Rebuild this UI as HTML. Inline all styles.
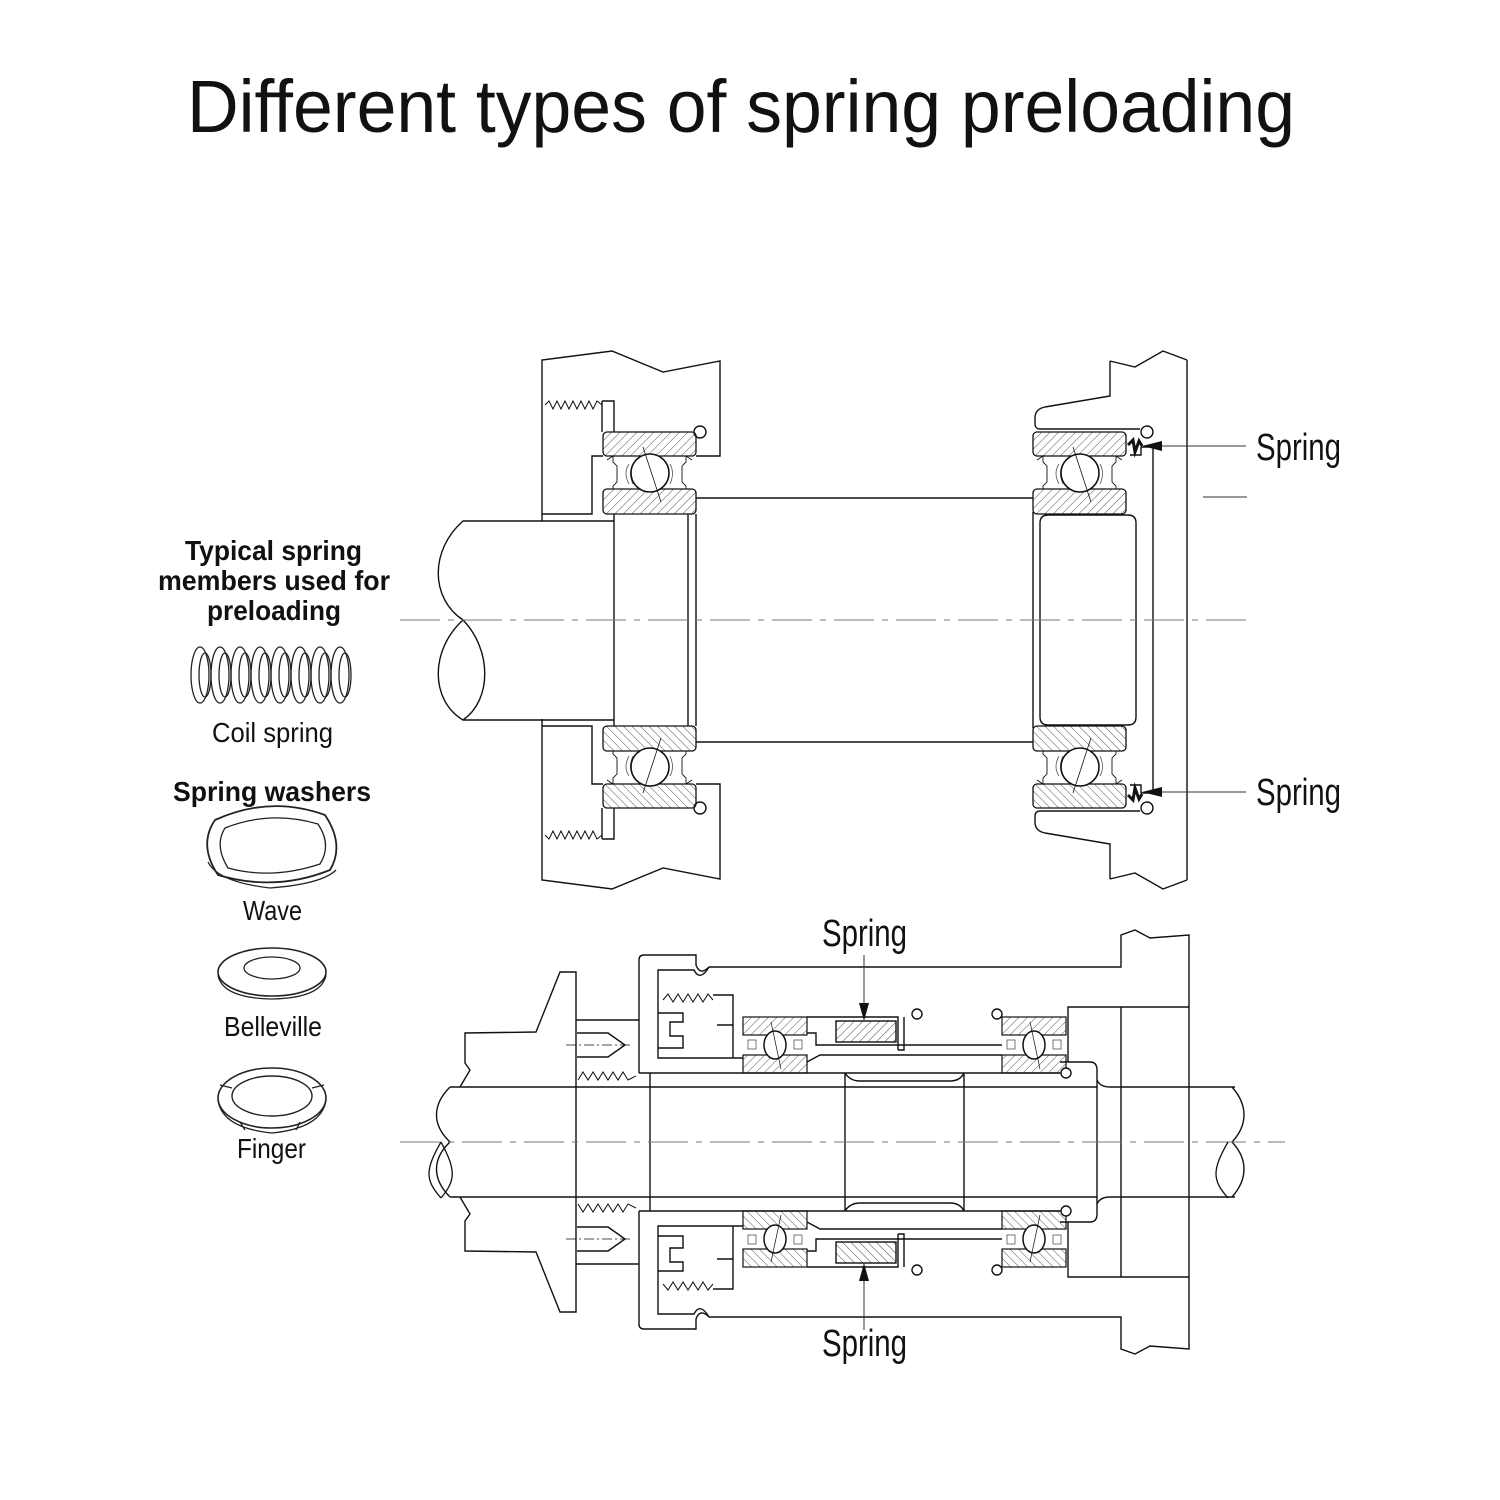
<!DOCTYPE html>
<html><head><meta charset="utf-8"><style>
html,body{margin:0;padding:0;background:#fff}
svg{display:block}
text{font-family:"Liberation Sans",sans-serif;fill:#111}
</style></head><body>
<svg width="1500" height="1500" viewBox="0 0 1500 1500" xmlns="http://www.w3.org/2000/svg">
<defs>
<pattern id="h" width="6" height="6" patternUnits="userSpaceOnUse" patternTransform="rotate(45)">
<line x1="0" y1="0" x2="0" y2="6" stroke="#222" stroke-width="0.8"/>
</pattern>
<g id="brg">
<!-- bearing 93x82 -->
<rect x="0" y="0" width="93" height="24" rx="4" fill="url(#h)" stroke="#111" stroke-width="1.3"/>
<rect x="0" y="57" width="93" height="25" rx="4" fill="url(#h)" stroke="#111" stroke-width="1.3"/>
<path d="M4,28 L10,24 L10,30 L14,34 L14,50 L10,54 L10,57 M89,28 L83,24 L83,30 L79,34 L79,50 L83,54 L83,57" fill="none" stroke="#111" stroke-width="0.9"/>
<path d="M26,32 Q20,41 26,52 M30,32 Q25,41 30,52 M67,32 Q72,41 67,52 M63,32 Q68,41 63,52" fill="none" stroke="#555" stroke-width="0.8"/>
<circle cx="47" cy="41" r="19" fill="#fff" stroke="#111" stroke-width="1.6"/>
<line x1="40" y1="15" x2="58" y2="70" stroke="#111" stroke-width="0.8"/>
</g>
<g id="sb">
<!-- small bearing 64x56 -->
<rect x="0" y="0" width="64" height="18" fill="url(#h)" stroke="#111" stroke-width="1.2"/>
<rect x="0" y="38" width="64" height="18" fill="url(#h)" stroke="#111" stroke-width="1.2"/>
<rect x="5" y="23" width="8" height="9" fill="none" stroke="#555" stroke-width="0.8"/>
<rect x="51" y="23" width="8" height="9" fill="none" stroke="#555" stroke-width="0.8"/>
<ellipse cx="32" cy="28" rx="11" ry="14" fill="#fff" stroke="#111" stroke-width="1.5"/>
<line x1="28" y1="5" x2="38" y2="52" stroke="#111" stroke-width="0.7"/>
</g>
<g id="topHalf" fill="none" stroke="#111" stroke-width="1.4">
<!-- left housing -->
<path d="M542,521 L542,360 L612,351 L663,372 L720,361 L720,456 L696,456"/>
<polyline points="545,405 549,401 553,409 557,401 561,409 565,401 569,409 573,401 577,409 581,401 585,409 589,401 593,409 597,401 602,405" stroke-width="1"/>
<path d="M602,401 L614,401 L614,432 M602,401 L602,432"/>
<path d="M542,514 L592,514 L592,456 L603,456"/>
<circle cx="700" cy="432" r="6" fill="#fff"/>
<use href="#brg" x="603" y="432"/>
<!-- collar -->
<path d="M614,514 L614,620 M688,514 L688,620 M696,514 L696,620"/>
<path d="M696,498 L1033,498"/>
<!-- right housing -->
<path d="M1187,360 L1187,620 M1110,361 L1135,367 L1163,351 L1187,360 M1110,361 L1110,396 L1045,407 Q1035,409 1035,418 L1035,425 Q1036,429 1040,429 L1140,429"/>
<circle cx="1147" cy="432" r="6" fill="#fff"/>
<use href="#brg" x="1033" y="432"/>
<path d="M1141,447 L1153,447 L1153,620 M1141,447 L1141,455 L1130,455"/>
<path d="M1128,445 L1133,440 L1135,452 L1139,441 L1142,446" stroke-width="3"/>
<path d="M1033,512 L1033,620"/>
<path d="M1040,620 L1040,523 Q1040,515 1048,515 L1128,515 Q1136,515 1136,523 L1136,620"/>
</g>
<g id="botHalf" fill="none" stroke="#111" stroke-width="1.4">
<!-- housing -->
<path d="M709,967 L1121,967 L1121,935 L1135,930 L1150,938 L1189,935 L1189,1142"/>
<path d="M1121,1007 L1121,1142 M1068,1062 L1068,1007 L1189,1007"/>
<!-- cap -->
<path d="M639,1073 L639,960 Q639,955 644,955 L696,955 L696,965 Q700,976 709,967"/>
<path d="M709,967 Q700,982 694,970 L658,970 L658,1058 L743,1058"/>
<path d="M658,1013 L683,1013 L683,1022 L670,1022 L670,1036 L683,1036 L683,1048 L658,1048"/>
<polyline points="663,1000 668,994 673,1002 678,994 683,1002 688,994 693,1002 698,994 703,1002 708,994 713,1000" stroke-width="1"/>
<path d="M713,995 L733,995 L733,1058 M717,1025 L733,1025"/>
<!-- left flange -->
<path d="M576,1142 L576,972 L560,972 L536,1032 L465,1033 L465,1063 L470,1070 L460,1087"/>
<path d="M576,1020 L639,1020"/>
<path d="M577,1033 L608,1033 L625,1045 L608,1057 L577,1057"/>
<line x1="566" y1="1045" x2="632" y2="1045" stroke-dasharray="10,3,2,3" stroke-width="0.8"/>
<polyline points="578,1080 583,1072 588,1080 593,1072 598,1080 603,1072 608,1080 613,1072 618,1080 623,1072 628,1080 636,1076" stroke-width="1"/>
<!-- shaft -->
<path d="M450,1087 L1097,1087 M1110,1087 L1235,1087"/>
<path d="M450,1087 C432,1105 432,1125 450,1142"/>
<path d="M1232,1087 C1248,1105 1248,1125 1232,1142"/>
<!-- sleeve -->
<path d="M639,1073 L1060,1073 M1060,1062 L1090,1062 Q1097,1062 1097,1070 L1097,1142 M650,1073 L650,1142"/>
<path d="M1097,1080 Q1100,1087 1110,1087"/>
<path d="M845,1073 L845,1142 M964,1073 L964,1142 M845,1073 Q850,1081 860,1081 L950,1081 Q960,1081 964,1073"/>
<use href="#sb" x="743" y="1017"/>
<use href="#sb" x="1002" y="1017"/>
<path d="M807,1033 L816,1033 L816,1045 L1002,1045 M807,1062 L820,1055 L1002,1055"/>
<rect x="836" y="1021" width="60" height="21" fill="url(#h)"/>
<path d="M807,1017 L898,1017 L898,1050 M904,1017 L904,1050 L898,1050"/>
<circle cx="917" cy="1014" r="5" fill="#fff"/>
<circle cx="997" cy="1014" r="5" fill="#fff"/>
<circle cx="1066" cy="1073" r="5" fill="#fff"/>
</g>
</defs>

<text x="187" y="132" font-size="74" textLength="1108" lengthAdjust="spacingAndGlyphs">Different types of spring preloading</text>

<use href="#topHalf"/>
<use href="#topHalf" transform="matrix(1,0,0,-1,0,1240)"/>
<!-- shaft top assembly -->
<g fill="none" stroke="#111" stroke-width="1.4">
<path d="M614,521 L463,521 C430,550 430,598 463,620 C430,650 430,700 463,720 L614,720 M463,620 C492,650 492,700 463,720"/>
</g>
<line x1="400" y1="620" x2="1248" y2="620" stroke="#777" stroke-width="1" stroke-dasharray="40,8,6,8"/>

<use href="#botHalf"/>
<use href="#botHalf" transform="matrix(1,0,0,-1,0,2284)"/>
<line x1="400" y1="1142" x2="1285" y2="1142" stroke="#777" stroke-width="1" stroke-dasharray="40,8,6,8"/>
<path d="M441,1142 C425,1170 425,1180 441,1198 M441,1142 C456,1170 456,1180 441,1198 M1228,1142 C1212,1170 1212,1180 1228,1198" fill="none" stroke="#111" stroke-width="1.3"/>

<!-- leaders -->
<g stroke="#333" stroke-width="1">
<line x1="1155" y1="446" x2="1246" y2="446"/>
<line x1="1155" y1="792" x2="1246" y2="792"/>
<line x1="1203" y1="497" x2="1247" y2="497"/>
<line x1="864" y1="955" x2="864" y2="1008"/>
<line x1="864" y1="1277" x2="864" y2="1330"/>
</g>
<polygon points="1142,446 1162,441 1162,451" fill="#111"/>
<polygon points="1142,792 1162,787 1162,797" fill="#111"/>
<polygon points="864,1021 859,1003 869,1003" fill="#111"/>
<polygon points="864,1263 859,1281 869,1281" fill="#111"/>

<text x="1256" y="460" font-size="38" textLength="85" lengthAdjust="spacingAndGlyphs">Spring</text>
<text x="1256" y="805" font-size="38" textLength="85" lengthAdjust="spacingAndGlyphs">Spring</text>
<text x="822" y="946" font-size="38" textLength="85" lengthAdjust="spacingAndGlyphs">Spring</text>
<text x="822" y="1356" font-size="38" textLength="85" lengthAdjust="spacingAndGlyphs">Spring</text>

<!-- left legend -->
<g font-weight="bold" font-size="28">
<text x="185" y="560" textLength="177" lengthAdjust="spacingAndGlyphs">Typical spring</text>
<text x="158" y="590" textLength="232" lengthAdjust="spacingAndGlyphs">members used for</text>
<text x="207" y="620" textLength="134" lengthAdjust="spacingAndGlyphs">preloading</text>
<text x="173" y="801" textLength="198" lengthAdjust="spacingAndGlyphs">Spring washers</text>
</g>
<g fill="none" stroke="#222" stroke-width="1.3">
<ellipse cx="200" cy="675" rx="9" ry="28"/>
<ellipse cx="220" cy="675" rx="9" ry="28"/>
<ellipse cx="240" cy="675" rx="9" ry="28"/>
<ellipse cx="260" cy="675" rx="9" ry="28"/>
<ellipse cx="280" cy="675" rx="9" ry="28"/>
<ellipse cx="300" cy="675" rx="9" ry="28"/>
<ellipse cx="320" cy="675" rx="9" ry="28"/>
<ellipse cx="340" cy="675" rx="9" ry="28"/>
<ellipse cx="205" cy="675" rx="6" ry="22"/>
<ellipse cx="225" cy="675" rx="6" ry="22"/>
<ellipse cx="245" cy="675" rx="6" ry="22"/>
<ellipse cx="265" cy="675" rx="6" ry="22"/>
<ellipse cx="285" cy="675" rx="6" ry="22"/>
<ellipse cx="305" cy="675" rx="6" ry="22"/>
<ellipse cx="325" cy="675" rx="6" ry="22"/>
<ellipse cx="345" cy="675" rx="6" ry="22"/>
<!-- wave -->
<path d="M215,820 Q270,795 325,815 Q345,845 330,870 Q275,892 218,875 Q198,845 215,820 Z" stroke-width="1.8"/>
<path d="M225,828 Q270,810 318,824 Q332,845 320,864 Q272,880 228,868 Q214,845 225,828 Z"/>
<path d="M208,862 Q218,882 270,888 Q322,884 336,870"/>
<!-- belleville -->
<ellipse cx="272" cy="972" rx="54" ry="24" stroke-width="1.6"/>
<ellipse cx="272" cy="968" rx="28" ry="11"/>
<path d="M218,975 Q222,998 272,999 Q322,998 326,975"/>
<!-- finger -->
<ellipse cx="272" cy="1098" rx="54" ry="30" stroke-width="1.6"/>
<ellipse cx="272" cy="1096" rx="40" ry="20" stroke-width="1.4"/>
<path d="M218,1100 Q222,1128 272,1133 Q322,1128 326,1100 M240,1122 L245,1130 M300,1122 L296,1130 M220,1085 L232,1088 M324,1085 L312,1088"/>
</g>
<g font-size="28">
<text x="212" y="742" textLength="121" lengthAdjust="spacingAndGlyphs">Coil spring</text>
<text x="243" y="920" textLength="59" lengthAdjust="spacingAndGlyphs">Wave</text>
<text x="224" y="1036" textLength="98" lengthAdjust="spacingAndGlyphs">Belleville</text>
<text x="237" y="1158" textLength="69" lengthAdjust="spacingAndGlyphs">Finger</text>
</g>
</svg>
</body></html>
